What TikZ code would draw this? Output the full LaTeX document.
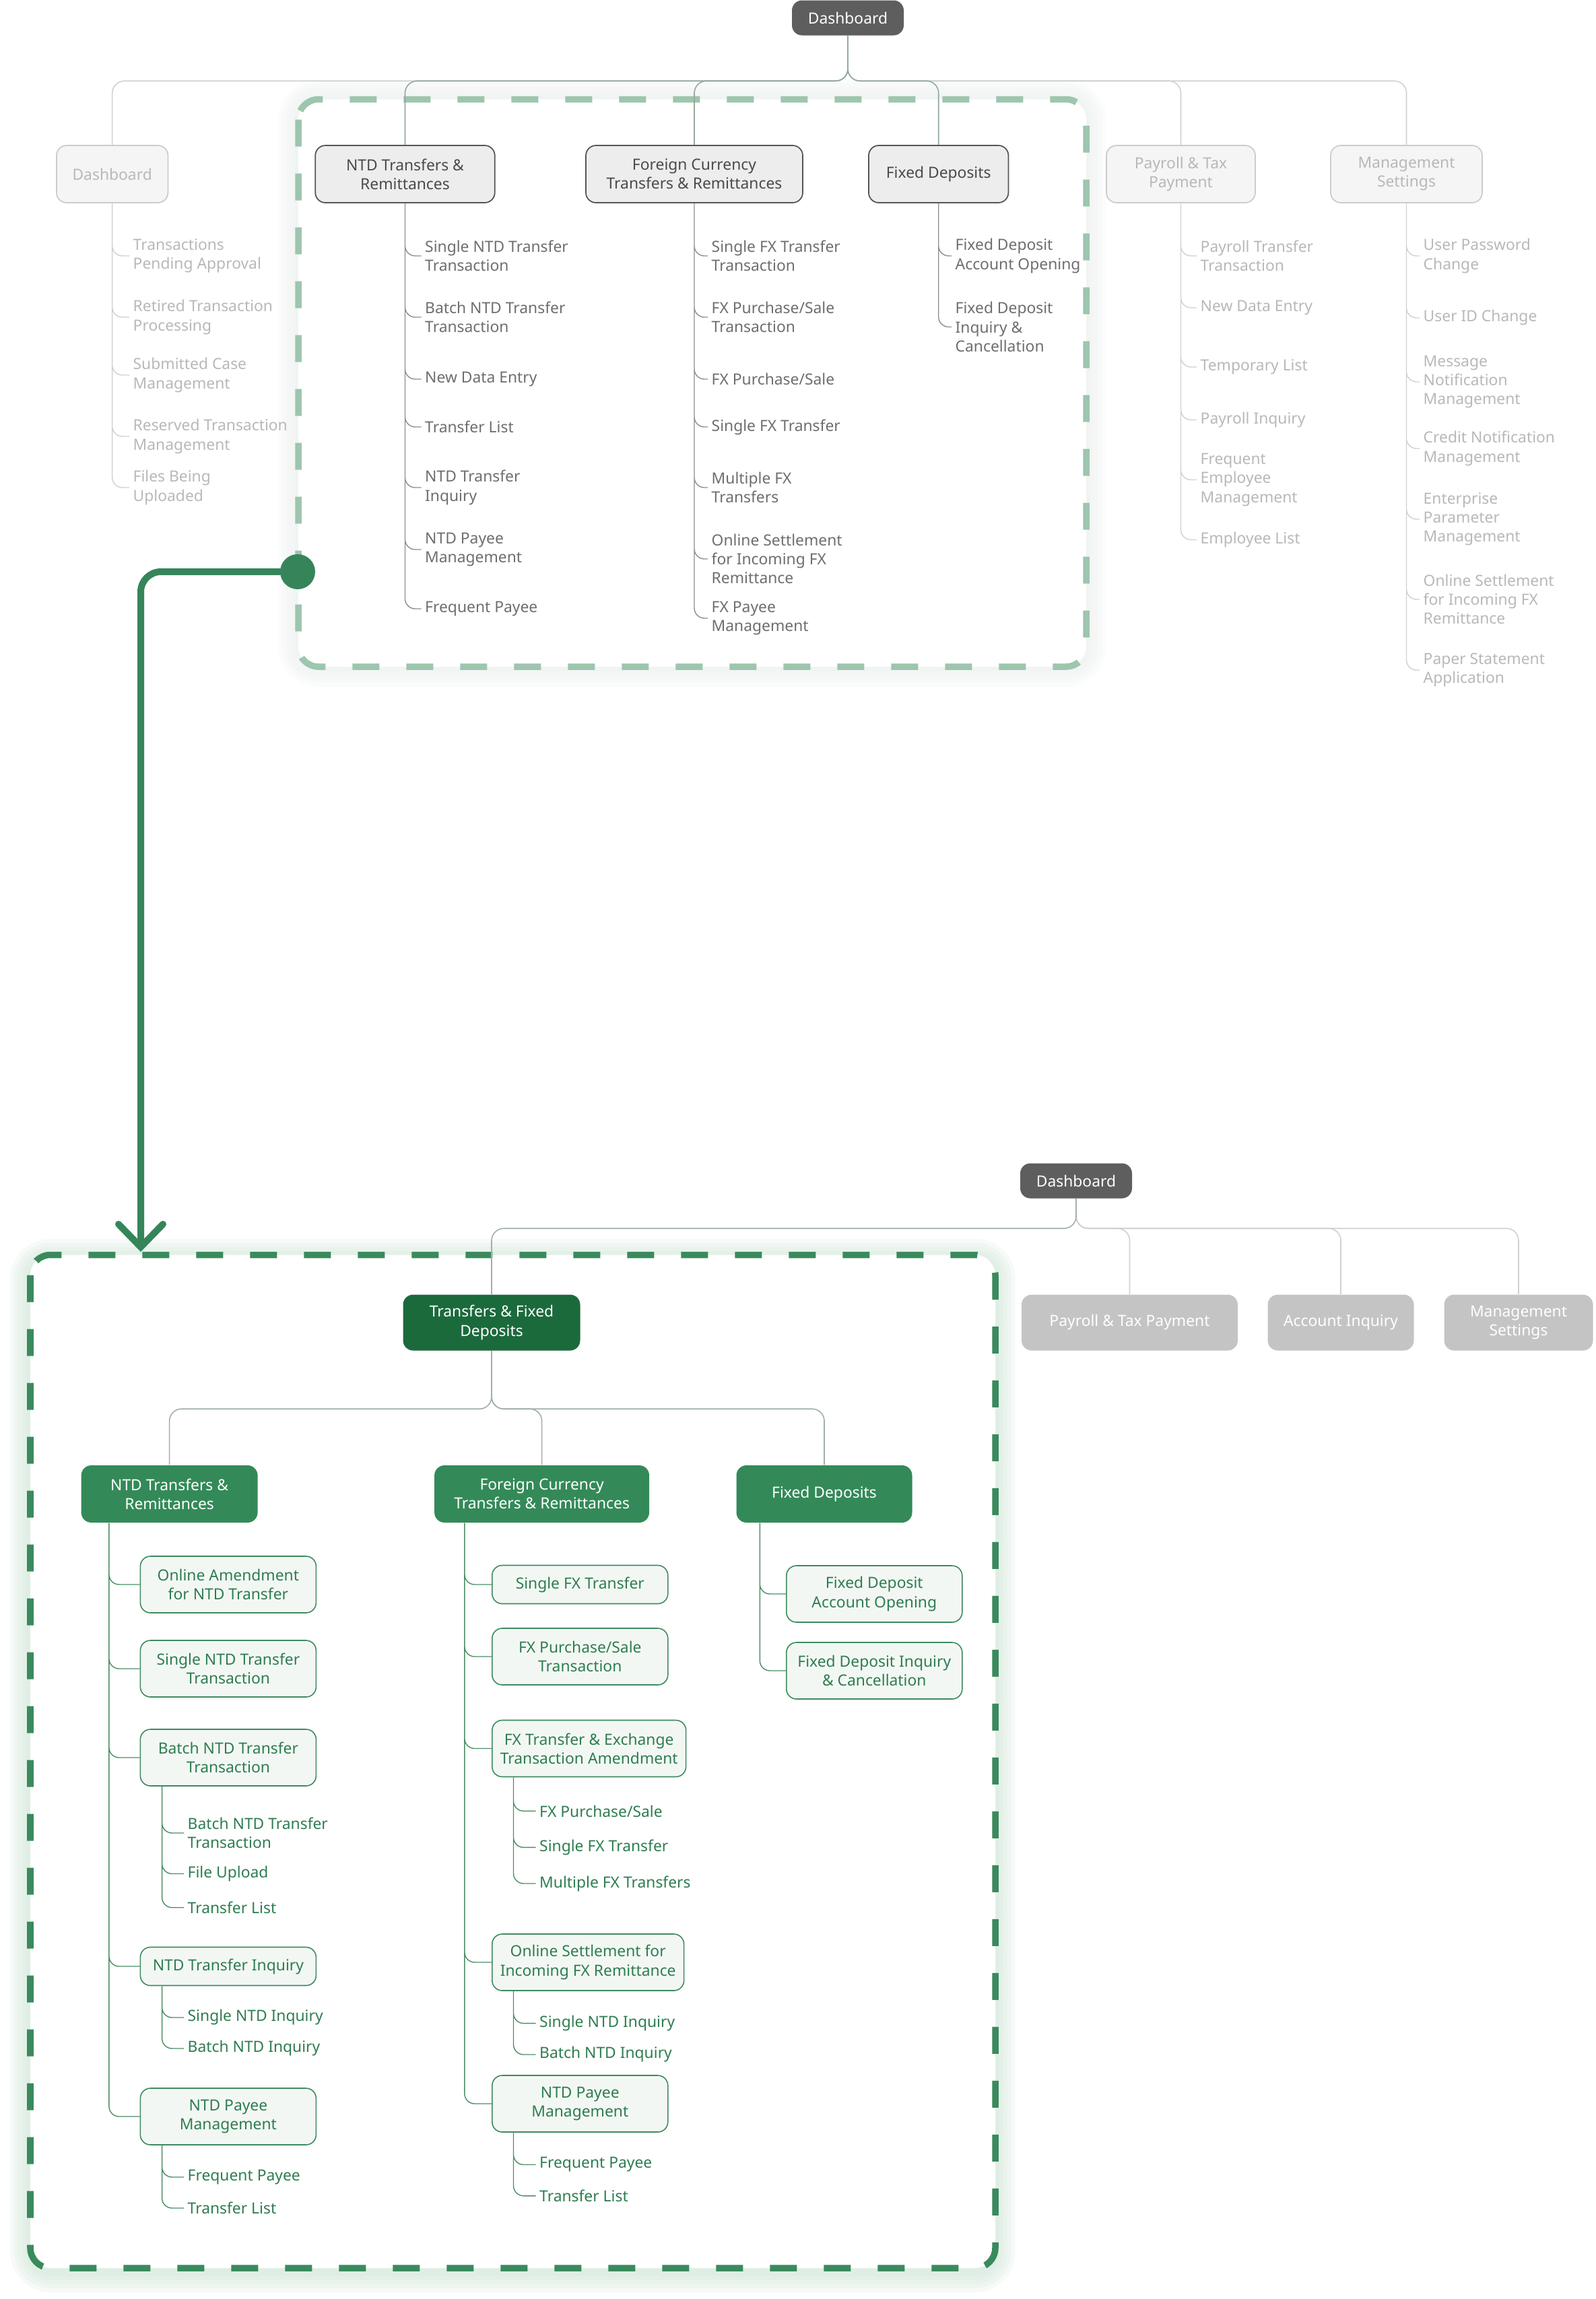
\documentclass[tikz,border=0pt]{standalone}
\usepackage{fontspec}
\setmainfont{Noto Sans}
\usepackage{tikz}
\usetikzlibrary{positioning,calc,arrows.meta}
\usepackage{xcolor}

\definecolor{dashBg}{HTML}{5E5E5E}
\definecolor{onFill}{HTML}{EDEDED}
\definecolor{onEdge}{HTML}{555555}
\definecolor{onText}{HTML}{4A4A4A}
\definecolor{offFill}{HTML}{F5F5F5}
\definecolor{offEdge}{HTML}{CCCCCC}
\definecolor{offText}{HTML}{B8B8B8}
\definecolor{itemText}{HTML}{6E6E6E}
\definecolor{lineOn}{HTML}{8E8E8E}
\definecolor{lineOff}{HTML}{D0D0D0}
\definecolor{linkOn}{HTML}{93A99C}
\definecolor{linkMid}{HTML}{A2AFA7}
\definecolor{grayBox}{HTML}{C4C4C4}
\definecolor{rootGreen}{HTML}{1B6A3C}
\definecolor{midGreen}{HTML}{338A58}
\definecolor{leafFill}{HTML}{F3F7F4}
\definecolor{leafEdge}{HTML}{3D8A5E}
\definecolor{leafText}{HTML}{2E7D50}
\definecolor{leafLine}{HTML}{4A8F66}
\definecolor{frameLight}{HTML}{9EC5AE}
\definecolor{frameDark}{HTML}{3A8A5D}
\definecolor{jumpGreen}{HTML}{36855A}
\definecolor{glowTop}{HTML}{E2E9E5}
\definecolor{glowBot}{HTML}{C5E0CE}

\begin{document}
\begin{tikzpicture}[
    font=\fontsize{6.5}{8}\selectfont,
    box/.style={rectangle, rounded corners=0.15cm, minimum height=0.85cm,
                align=center, inner xsep=0.12cm},
    topbox/.style={box, draw=onEdge, fill=onFill, text=onText, line width=0.5pt},
    topbox_off/.style={box, draw=offEdge, fill=offFill, text=offText, line width=0.5pt},
    homebox/.style={box, fill=dashBg, text=white, minimum width=1.66cm,
                    minimum height=0.52cm},
    entry/.style={anchor=west, align=left, inner xsep=0.05cm, inner ysep=0pt,
                  text=itemText},
    entry_off/.style={entry, text=offText},
    treeline/.style={draw=lineOn, line width=0.4pt, rounded corners=0.15cm},
    treeline_off/.style={treeline, draw=lineOff},
    linkline/.style={draw=linkOn, line width=0.45pt, rounded corners=0.18cm},
    linkline_mid/.style={linkline, draw=linkMid},
    linkline_off/.style={linkline, draw=lineOff},
    rootbox/.style={box, fill=rootGreen, text=white, minimum height=0.83cm},
    greybox/.style={box, fill=grayBox, text=white, minimum height=0.83cm},
    groupbox/.style={box, fill=midGreen, text=white},
    leafbox/.style={box, draw=leafEdge, fill=leafFill, text=leafText,
                    line width=0.45pt, minimum width=2.61cm, minimum height=0.84cm,
                    anchor=west},
    leafentry/.style={entry, text=leafText},
    leafline/.style={treeline, draw=leafLine},
    hilite/.style={rounded corners=0.3cm, line width=0.095cm,
                   dash pattern=on 0.4cm off 0.4cm},
    glow_t/.style={fill=glowTop, opacity=0.13},
    glow_b/.style={fill=glowBot, opacity=0.15},
    jumpline/.style={draw=jumpGreen, line width=0.1cm, rounded corners=0.3cm,
                     line cap=round,
                     -{Straight Barb[length=0.34cm, width=0.66cm, line cap=round]}}
  ]
  \useasboundingbox (0,0) rectangle (23.69,-34.14);

  % Highlight frames with soft glow
  \fill[glow_t, rounded corners=0.6cm] (4.13,-1.175) rectangle (16.43,-10.20);
  \fill[glow_t, rounded corners=0.54cm] (4.19,-1.235) rectangle (16.37,-10.14);
  \fill[glow_t, rounded corners=0.48cm] (4.25,-1.295) rectangle (16.31,-10.08);
  \fill[glow_t, rounded corners=0.42cm] (4.31,-1.355) rectangle (16.25,-10.02);
  \fill[glow_t, rounded corners=0.36cm] (4.37,-1.415) rectangle (16.19,-9.96);
  \fill[white, rounded corners=0.3cm] (4.43,-1.475) rectangle (16.13,-9.90);
  \draw[hilite, frameLight] (4.43,-1.475) rectangle (16.13,-9.90);

  \fill[glow_b, rounded corners=0.6cm] (0.15,-18.395) rectangle (15.08,-34.04);
  \fill[glow_b, rounded corners=0.54cm] (0.21,-18.455) rectangle (15.02,-33.98);
  \fill[glow_b, rounded corners=0.48cm] (0.27,-18.515) rectangle (14.96,-33.92);
  \fill[glow_b, rounded corners=0.42cm] (0.33,-18.575) rectangle (14.90,-33.86);
  \fill[glow_b, rounded corners=0.36cm] (0.39,-18.635) rectangle (14.84,-33.80);
  \fill[white, rounded corners=0.3cm] (0.45,-18.635) rectangle (14.78,-33.68);
  \draw[hilite, frameDark] (0.45,-18.635) rectangle (14.78,-33.68);

  % Current menu: top level
  \node[homebox] (dash_top) at (12.59,-0.265) {Dashboard};
  \node[topbox_off, minimum width=1.655cm] (t_dash) at (1.667,-2.585) {Dashboard};
  \node[topbox, minimum width=2.665cm] (t_ntd) at (6.015,-2.585) {NTD Transfers \&\\Remittances};
  \node[topbox, minimum width=3.22cm] (t_fx) at (10.31,-2.585) {Foreign Currency\\Transfers \& Remittances};
  \node[topbox, minimum width=2.075cm] (t_fd) at (13.937,-2.585) {Fixed Deposits};
  \node[topbox_off, minimum width=2.21cm] (t_pay) at (17.535,-2.585) {Payroll \& Tax\\Payment};
  \node[topbox_off, minimum width=2.25cm] (t_mgmt) at (20.885,-2.585) {Management\\Settings};

  \draw[linkline_off] (dash_top.south) -- ++(0,-0.67) -| (t_dash.north);
  \draw[linkline_off] (dash_top.south) -- ++(0,-0.67) -| (t_pay.north);
  \draw[linkline_off] (dash_top.south) -- ++(0,-0.67) -| (t_mgmt.north);
  \draw[linkline] (dash_top.south) -- ++(0,-0.67) -| (t_ntd.north);
  \draw[linkline] (dash_top.south) -- ++(0,-0.67) -| (t_fx.north);
  \draw[linkline] (dash_top.south) -- ++(0,-0.67) -| (t_fd.north);

  % Current menu: Dashboard
  \node[entry_off] (d_1) at (1.92,-3.80) {Transactions\\Pending Approval};
  \node[entry_off] (d_2) at (1.92,-4.71) {Retired Transaction\\Processing};
  \node[entry_off] (d_3) at (1.92,-5.57) {Submitted Case\\Management};
  \node[entry_off] (d_4) at (1.92,-6.48) {Reserved Transaction\\Management};
  \node[entry_off] (d_5) at (1.92,-7.24) {Files Being\\Uploaded};
  \draw[treeline_off] (t_dash.south) |- (d_1.west) (t_dash.south) |- (d_2.west)
    (t_dash.south) |- (d_3.west) (t_dash.south) |- (d_4.west) (t_dash.south) |- (d_5.west);

  % Current menu: NTD transfers
  \node[entry] (n_1) at (6.255,-3.80) {Single NTD Transfer\\Transaction};
  \node[entry] (n_2) at (6.255,-4.71) {Batch NTD Transfer\\Transaction};
  \node[entry] (n_3) at (6.255,-5.63) {New Data Entry};
  \node[entry] (n_4) at (6.255,-6.34) {Transfer List};
  \node[entry] (n_5) at (6.255,-7.24) {NTD Transfer\\Inquiry};
  \node[entry] (n_6) at (6.255,-8.16) {NTD Payee\\Management};
  \node[entry] (n_7) at (6.255,-9.04) {Frequent Payee};
  \draw[treeline] (t_ntd.south) |- (n_1.west) (t_ntd.south) |- (n_2.west)
    (t_ntd.south) |- (n_3.west) (t_ntd.south) |- (n_4.west) (t_ntd.south) |- (n_5.west)
    (t_ntd.south) |- (n_6.west) (t_ntd.south) |- (n_7.west);

  % Current menu: foreign currency
  \node[entry] (f_1) at (10.51,-3.80) {Single FX Transfer\\Transaction};
  \node[entry] (f_2) at (10.51,-4.71) {FX Purchase/Sale\\Transaction};
  \node[entry] (f_3) at (10.51,-5.63) {FX Purchase/Sale};
  \node[entry] (f_4) at (10.51,-6.34) {Single FX Transfer};
  \node[entry] (f_5) at (10.51,-7.24) {Multiple FX\\Transfers};
  \node[entry] (f_6) at (10.51,-8.30) {Online Settlement\\for Incoming FX\\Remittance};
  \node[entry] (f_7) at (10.51,-9.18) {FX Payee\\Management};
  \draw[treeline] (t_fx.south) |- (f_1.west) (t_fx.south) |- (f_2.west)
    (t_fx.south) |- (f_3.west) (t_fx.south) |- (f_4.west) (t_fx.south) |- (f_5.west)
    (t_fx.south) |- (f_6.west) (t_fx.south) |- (f_7.west);

  % Current menu: fixed deposits
  \node[entry] (x_1) at (14.13,-3.80) {Fixed Deposit\\Account Opening};
  \node[entry] (x_2) at (14.13,-4.855) {Fixed Deposit\\Inquiry \&\\Cancellation};
  \draw[treeline] (t_fd.south) |- (x_1.west) (t_fd.south) |- (x_2.west);

  % Current menu: payroll
  \node[entry_off] (p_1) at (17.77,-3.80) {Payroll Transfer\\Transaction};
  \node[entry_off] (p_2) at (17.77,-4.57) {New Data Entry};
  \node[entry_off] (p_3) at (17.77,-5.45) {Temporary List};
  \node[entry_off] (p_4) at (17.77,-6.235) {Payroll Inquiry};
  \node[entry_off] (p_5) at (17.77,-7.125) {Frequent\\Employee\\Management};
  \node[entry_off] (p_6) at (17.77,-8.015) {Employee List};
  \draw[treeline_off] (t_pay.south) |- (p_1.west) (t_pay.south) |- (p_2.west)
    (t_pay.south) |- (p_3.west) (t_pay.south) |- (p_4.west) (t_pay.south) |- (p_5.west)
    (t_pay.south) |- (p_6.west);

  % Current menu: management
  \node[entry_off] (m_1) at (21.08,-3.80) {User Password\\Change};
  \node[entry_off] (m_2) at (21.08,-4.72) {User ID Change};
  \node[entry_off] (m_3) at (21.08,-5.67) {Message\\Notification\\Management};
  \node[entry_off] (m_4) at (21.08,-6.66) {Credit Notification\\Management};
  \node[entry_off] (m_5) at (21.08,-7.71) {Enterprise\\Parameter\\Management};
  \node[entry_off] (m_6) at (21.08,-8.90) {Online Settlement\\for Incoming FX\\Remittance};
  \node[entry_off] (m_7) at (21.08,-9.95) {Paper Statement\\Application};
  \draw[treeline_off] (t_mgmt.south) |- (m_1.west) (t_mgmt.south) |- (m_2.west)
    (t_mgmt.south) |- (m_3.west) (t_mgmt.south) |- (m_4.west) (t_mgmt.south) |- (m_5.west)
    (t_mgmt.south) |- (m_6.west) (t_mgmt.south) |- (m_7.west);

  % Jump from old group to new group
  \node[circle, fill=jumpGreen, minimum size=0.52cm, inner sep=0pt] (hop) at (4.42,-8.49) {};
  \coordinate (hop_end) at (2.09,-18.59);
  \draw[jumpline] (hop.west) -| (hop_end);

  % New menu: top level
  \node[homebox] (dash_bot) at (15.98,-17.535) {Dashboard};
  \node[rootbox, minimum width=2.63cm] (b_tfd) at (7.30,-19.64) {Transfers \& Fixed\\Deposits};
  \node[greybox, minimum width=3.21cm] (b_pay) at (16.775,-19.64) {Payroll \& Tax Payment};
  \node[greybox, minimum width=2.17cm] (b_acct) at (19.91,-19.64) {Account Inquiry};
  \node[greybox, minimum width=2.21cm] (b_mgmt) at (22.55,-19.64) {Management\\Settings};

  \draw[linkline_off] (dash_bot.south) -- ++(0,-0.44) -| (b_pay.north);
  \draw[linkline_off] (dash_bot.south) -- ++(0,-0.44) -| (b_acct.north);
  \draw[linkline_off] (dash_bot.south) -- ++(0,-0.44) -| (b_mgmt.north);
  \draw[linkline_mid] (dash_bot.south) -- ++(0,-0.44) -| (b_tfd.north);

  % New menu: groups
  \node[groupbox, minimum width=2.62cm] (g_ntd) at (2.516,-22.185) {NTD Transfers \&\\Remittances};
  \node[groupbox, minimum width=3.19cm] (g_fx) at (8.046,-22.185) {Foreign Currency\\Transfers \& Remittances};
  \node[groupbox, minimum width=2.61cm] (g_fd) at (12.24,-22.185) {Fixed Deposits};

  \draw[linkline_mid] (b_tfd.south) -- ++(0,-0.86) -| (g_ntd.north);
  \draw[linkline_mid] (b_tfd.south) -- ++(0,-0.86) -| (g_fx.north);
  \draw[linkline_mid] (b_tfd.south) -- ++(0,-0.86) -| (g_fd.north);

  \coordinate (g_ntd_trunk) at ([xshift=0.42cm]g_ntd.south west);
  \coordinate (g_fx_trunk) at ([xshift=0.455cm]g_fx.south west);
  \coordinate (g_fd_trunk) at ([xshift=0.355cm]g_fd.south west);

  % New menu: NTD transfers
  \node[leafbox] (l_ntd1) at (2.076,-23.53) {Online Amendment\\for NTD Transfer};
  \node[leafbox] (l_ntd2) at (2.076,-24.78) {Single NTD Transfer\\Transaction};
  \node[leafbox] (l_ntd3) at (2.076,-26.10) {Batch NTD Transfer\\Transaction};
  \node[leafbox, minimum height=0.57cm] (l_ntd4) at (2.076,-29.20) {NTD Transfer Inquiry};
  \node[leafbox] (l_ntd5) at (2.076,-31.43) {NTD Payee\\Management};
  \draw[leafline] (g_ntd_trunk) |- (l_ntd1.west) (g_ntd_trunk) |- (l_ntd2.west)
    (g_ntd_trunk) |- (l_ntd3.west) (g_ntd_trunk) |- (l_ntd4.west) (g_ntd_trunk) |- (l_ntd5.west);

  \coordinate (s_ntd3) at ([xshift=0.33cm]l_ntd3.south west);
  \coordinate (s_ntd4) at ([xshift=0.33cm]l_ntd4.south west);
  \coordinate (s_ntd5) at ([xshift=0.33cm]l_ntd5.south west);
  \node[leafentry] (a_1) at (2.73,-27.22) {Batch NTD Transfer\\Transaction};
  \node[leafentry] (a_2) at (2.73,-27.825) {File Upload};
  \node[leafentry] (a_3) at (2.73,-28.327) {Transfer List};
  \node[leafentry] (b_1) at (2.73,-29.96) {Single NTD Inquiry};
  \node[leafentry] (b_2) at (2.73,-30.42) {Batch NTD Inquiry};
  \node[leafentry] (c_1) at (2.73,-32.33) {Frequent Payee};
  \node[leafentry] (c_2) at (2.73,-32.79) {Transfer List};
  \draw[leafline] (s_ntd3) |- (a_1.west) (s_ntd3) |- (a_2.west) (s_ntd3) |- (a_3.west);
  \draw[leafline] (s_ntd4) |- (b_1.west) (s_ntd4) |- (b_2.west);
  \draw[leafline] (s_ntd5) |- (c_1.west) (s_ntd5) |- (c_2.west);

  % New menu: foreign currency
  \node[leafbox, minimum height=0.57cm] (l_fx1) at (7.30,-23.53) {Single FX Transfer};
  \node[leafbox] (l_fx2) at (7.30,-24.60) {FX Purchase/Sale\\Transaction};
  \node[leafbox] (l_fx3) at (7.30,-25.965) {FX Transfer \& Exchange\\Transaction Amendment};
  \node[leafbox] (l_fx4) at (7.30,-29.14) {Online Settlement for\\Incoming FX Remittance};
  \node[leafbox] (l_fx5) at (7.30,-31.24) {NTD Payee\\Management};
  \draw[leafline] (g_fx_trunk) |- (l_fx1.west) (g_fx_trunk) |- (l_fx2.west)
    (g_fx_trunk) |- (l_fx3.west) (g_fx_trunk) |- (l_fx4.west) (g_fx_trunk) |- (l_fx5.west);

  \coordinate (s_fx3) at ([xshift=0.325cm]l_fx3.south west);
  \coordinate (s_fx4) at ([xshift=0.325cm]l_fx4.south west);
  \coordinate (s_fx5) at ([xshift=0.325cm]l_fx5.south west);
  \node[leafentry] (e_1) at (7.955,-26.894) {FX Purchase/Sale};
  \node[leafentry] (e_2) at (7.955,-27.434) {Single FX Transfer};
  \node[leafentry] (e_3) at (7.955,-27.97) {Multiple FX Transfers};
  \node[leafentry] (h_1) at (7.955,-30.046) {Single NTD Inquiry};
  \node[leafentry] (h_2) at (7.955,-30.51) {Batch NTD Inquiry};
  \node[leafentry] (k_1) at (7.955,-32.145) {Frequent Payee};
  \node[leafentry] (k_2) at (7.955,-32.608) {Transfer List};
  \draw[leafline] (s_fx3) |- (e_1.west) (s_fx3) |- (e_2.west) (s_fx3) |- (e_3.west);
  \draw[leafline] (s_fx4) |- (h_1.west) (s_fx4) |- (h_2.west);
  \draw[leafline] (s_fx5) |- (k_1.west) (s_fx5) |- (k_2.west);

  % New menu: fixed deposits
  \node[leafbox] (l_fd1) at (11.67,-23.67) {Fixed Deposit\\Account Opening};
  \node[leafbox] (l_fd2) at (11.67,-24.81) {Fixed Deposit Inquiry\\\& Cancellation};
  \draw[leafline] (g_fd_trunk) |- (l_fd1.west) (g_fd_trunk) |- (l_fd2.west);

\end{tikzpicture}
\end{document}
